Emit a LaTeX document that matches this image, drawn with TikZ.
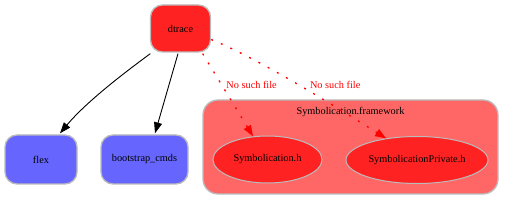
\documentclass[tikz,border=0pt]{standalone}
\usepackage{fontspec}
\setmainfont{Liberation Serif}
\usetikzlibrary{arrows.meta,shapes.geometric}
\definecolor{nodered}{HTML}{FF2222}
\definecolor{nodeblue}{HTML}{6666FF}
\definecolor{clusterred}{HTML}{FF6666}
\definecolor{bordergray}{HTML}{BBBBBB}
\tikzset{
  every node/.style={font=\fontsize{10.3}{12}\selectfont, inner sep=0pt},
  boxnode/.style={draw=bordergray, line width=1.3pt, rounded corners=12pt, minimum height=47pt},
  ellnode/.style={draw=bordergray, line width=1pt, ellipse, fill=nodered, minimum height=47pt},
  solidedge/.style={draw=black, line width=0.9pt, -{Triangle[length=11pt,width=8pt]}},
  missedge/.style={draw=red, line width=1.3pt, dash pattern=on 2pt off 8.5pt, -{Triangle[length=11pt,width=8pt]}},
  misslabel/.style={text=red}
}
\begin{document}
\begin{tikzpicture}[x=1pt,y=-1pt]
\useasboundingbox (0,0) rectangle (515,221);
% cluster
\node[draw=bordergray, line width=1.3pt, rounded corners=15pt, fill=clusterred,
      minimum width=295pt, minimum height=94pt] (cluster) at (350.5,147) {};
\node (clusterlabel) at (350.5,112) {Symbolication.framework};
% nodes
\node[boxnode, fill=nodered, minimum width=60pt] (dtrace) at (180.5,28.5) {dtrace};
\node[boxnode, fill=nodeblue, minimum width=72pt, minimum height=49pt] (flex) at (41,159.5) {flex};
\node[boxnode, fill=nodeblue, minimum width=87pt, minimum height=49pt] (boot) at (144.5,159.5) {bootstrap\_cmds};
\node[ellnode, minimum width=109pt] (sym1) at (267.5,159.5) {Symbolication.h};
\node[ellnode, minimum width=142pt] (sym2) at (417,160) {SymbolicationPrivate.h};
% edges
\draw[solidedge] ([shift={(0.5,1)}]dtrace.south west) .. controls +(-30,22) and +(25,-30) .. ([shift={(19,-1)}]flex.north);
\draw[solidedge] ([shift={(-2.5,1)}]dtrace.south) -- ([shift={(10.5,-1)}]boot.north);
\draw[missedge] ([shift={(-8.5,1)}]dtrace.south east) -- node[misslabel, pos=0.38, right=4pt] {No such file} (sym1.122);
\draw[missedge] ([shift={(0,11)}]dtrace.east) .. controls +(50,20) and +(-40,-25) .. node[misslabel, pos=0.5, right=7pt, yshift=2.5pt] {No such file} (sym2.145);
\end{tikzpicture}
\end{document}
